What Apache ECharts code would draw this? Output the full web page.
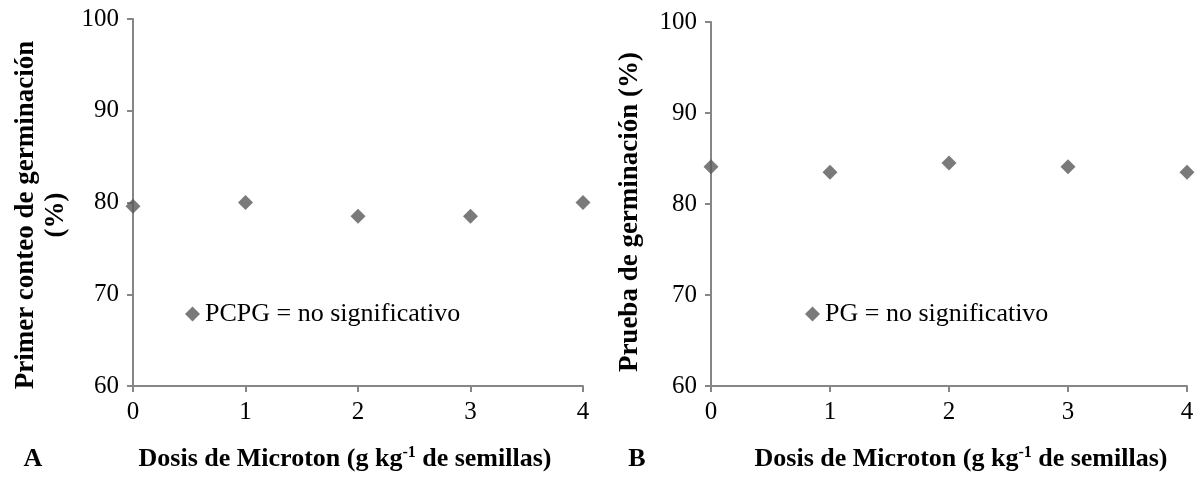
<!DOCTYPE html>
<html>
<head>
<meta charset="utf-8">
<script src="https://cdn.jsdelivr.net/npm/echarts@6.0.0/dist/echarts.min.js"></script>
<style>
  html, body { margin: 0; padding: 0; background: #fff; }
  #chart { width: 1199px; height: 482px; }
</style>
</head>
<body>
<div id="chart"></div>
<script>
// dose levels (g kg-1 of seed)
const doses = [0, 1, 2, 3, 4];
// A: primer conteo de germinación (%)
const pcpgValues = [79.6, 80.0, 78.5, 78.5, 80.0];
// B: prueba de germinación (%)
const pgValues = [84.1, 83.5, 84.5, 84.1, 83.5];
const yTicks = [60, 70, 80, 90, 100];
const xTicks = [0, 1, 2, 3, 4];

const serif = "'Liberation Serif', 'Times New Roman', serif";
const axisGray = "#868686";
const markGray = "#595959";

function pairs(xs, ys) {
  return xs.map((x, i) => [x, ys[i]]);
}

const xName = "{b|Dosis de Microton (g kg}{sup|-1}{b| de semillas)}";

function xAxis(gridIndex, namePadding) {
  return {
    type: "value",
    gridIndex: gridIndex,
    min: xTicks[0],
    max: xTicks[xTicks.length - 1],
    interval: 1,
    name: xName,
    nameLocation: "middle",
    nameGap: 59,
    nameTextStyle: {
      fontFamily: serif,
      padding: namePadding,
      rich: {
        b: { fontFamily: serif, fontSize: 26, fontWeight: "bold", color: "#000" },
        sup: { fontFamily: serif, fontSize: 16, fontWeight: "bold", color: "#000", verticalAlign: "top", padding: [0, 0, 12, 0] }
      }
    },
    axisLine: { lineStyle: { color: axisGray, width: 2 } },
    axisTick: { show: true, length: 6, lineStyle: { color: axisGray, width: 2 } },
    axisLabel: { fontFamily: serif, fontSize: 25, color: "#000", margin: 14 },
    splitLine: { show: false }
  };
}

function yAxis(gridIndex) {
  return {
    type: "value",
    gridIndex: gridIndex,
    min: yTicks[0],
    max: yTicks[yTicks.length - 1],
    interval: 10,
    axisLine: { show: true, lineStyle: { color: axisGray, width: 2 } },
    axisTick: { show: true, length: 6, lineStyle: { color: axisGray, width: 2 } },
    axisLabel: { fontFamily: serif, fontSize: 25, color: "#000", margin: 14 },
    splitLine: { show: false }
  };
}

function legend(name, left) {
  return {
    data: [{ name: name, icon: "diamond" }],
    left: left,
    top: 296,
    itemWidth: 15,
    itemHeight: 15,
    textStyle: { fontFamily: serif, fontSize: 26, color: "#000" }
  };
}

const chart = echarts.init(document.getElementById("chart"), null, { renderer: "canvas" });

chart.setOption({
  backgroundColor: "#fff",
  animation: false,
  grid: [
    { left: 133, top: 19, width: 450, height: 367 },
    { left: 711, top: 22, width: 476, height: 364 }
  ],
  xAxis: [xAxis(0, [0, 26, 0, 0]), xAxis(1, [0, 0, 0, 24])],
  yAxis: [yAxis(0), yAxis(1)],
  legend: [
    legend("PCPG = no significativo", 180),
    legend("PG = no significativo", 800)
  ],
  series: [
    {
      name: "PCPG = no significativo",
      type: "scatter",
      xAxisIndex: 0,
      yAxisIndex: 0,
      symbol: "diamond",
      symbolSize: 15,
      itemStyle: { color: markGray },
      data: pairs(doses, pcpgValues)
    },
    {
      name: "PG = no significativo",
      type: "scatter",
      xAxisIndex: 1,
      yAxisIndex: 1,
      symbol: "diamond",
      symbolSize: 15,
      itemStyle: { color: markGray },
      data: pairs(doses, pgValues)
    }
  ],
  graphic: [
    {
      type: "text", x: 41, y: 215, rotation: Math.PI / 2,
      style: {
        text: "Primer conteo de germinación\n(%)",
        fontFamily: serif, fontSize: 27, fontWeight: "bold", fill: "#000",
        align: "center", verticalAlign: "middle", lineHeight: 30
      }
    },
    {
      type: "text", x: 630, y: 212, rotation: Math.PI / 2,
      style: {
        text: "Prueba de germinación (%)",
        fontFamily: serif, fontSize: 27, fontWeight: "bold", fill: "#000",
        align: "center", verticalAlign: "middle"
      }
    },
    {
      type: "text", x: 33, y: 459,
      style: { text: "A", fontFamily: serif, fontSize: 26, fontWeight: "bold", fill: "#000", align: "center", verticalAlign: "middle" }
    },
    {
      type: "text", x: 637, y: 459,
      style: { text: "B", fontFamily: serif, fontSize: 26, fontWeight: "bold", fill: "#000", align: "center", verticalAlign: "middle" }
    }
  ]
});

window.addEventListener("resize", () => chart.resize());
</script>
</body>
</html>
